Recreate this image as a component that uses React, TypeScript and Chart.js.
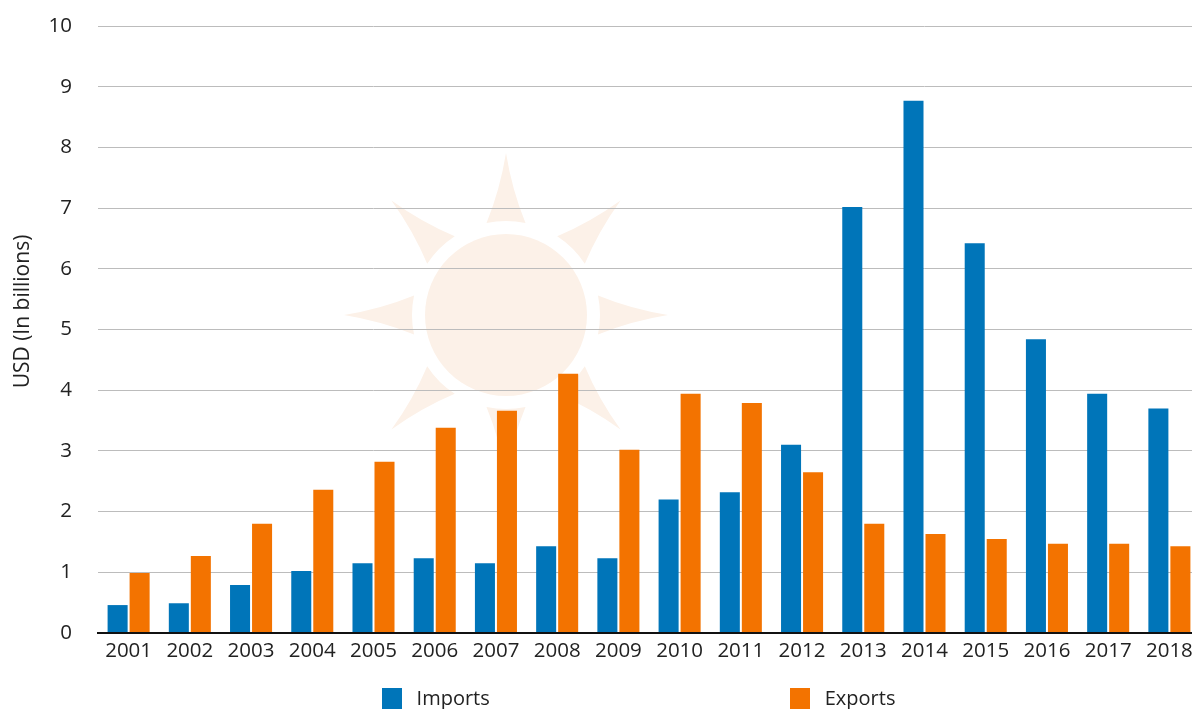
import React, { useEffect, useRef } from "react";
import { Chart, registerables } from "chart.js";

Chart.register(...registerables);

const years = ["2001","2002","2003","2004","2005","2006","2007","2008","2009","2010","2011","2012","2013","2014","2015","2016","2017","2018"];
const imports = [0.46,0.49,0.79,1.02,1.15,1.23,1.15,1.43,1.23,2.2,2.32,3.1,7.02,8.77,6.42,4.84,3.94,3.7];
const exportsUsd = [0.99,1.27,1.8,2.36,2.82,3.38,3.66,4.27,3.02,3.94,3.79,2.65,1.8,1.63,1.55,1.47,1.47,1.43];
const FONT = "'Open Sans', sans-serif";
const BLUE = "#0075b9";
const ORANGE = "#f37300";
const LEGEND_PADDING = 295;

function swatch(color: string) {
  const c = document.createElement("canvas");
  c.width = 20;
  c.height = 22;
  const g = c.getContext("2d")!;
  g.fillStyle = color;
  g.fillRect(0, 0, 20, 22);
  return c;
}

const sunPlugin = {
  id: "sunWatermark",
  beforeDraw(chart: any) {
    const { ctx } = chart;
    const cx = 506, cy = 315;
    ctx.save();
    ctx.fillStyle = "#fcf1e8";
    ctx.beginPath();
    ctx.arc(cx, cy, 81, 0, Math.PI * 2);
    ctx.fill();
    for (let i = 0; i < 8; i++) {
      ctx.save();
      ctx.translate(cx, cy);
      ctx.rotate((i * Math.PI) / 4);
      const half = Math.asin(19.5 / 94);
      ctx.beginPath();
      ctx.arc(0, 0, 94, -Math.PI / 2 - half, -Math.PI / 2 + half);
      ctx.quadraticCurveTo(6, -125, 0, -162);
      ctx.quadraticCurveTo(-6, -125, -19.5, -Math.sqrt(94 * 94 - 19.5 * 19.5));
      ctx.closePath();
      ctx.fill();
      ctx.restore();
    }
    ctx.restore();
  },
};

// The reference spreads its two legend entries far apart: keep the wide item
// spacing without letting it add to the legend's height.
const legendLayoutPlugin = {
  id: "legendLayout",
  beforeLayout(chart: any) {
    const legend = chart.legend;
    if (!legend.__fitPatched) {
      const fit = legend.fit;
      legend.fit = function () {
        fit.call(this);
        this.height = 40;
      };
      legend.__fitPatched = true;
    }
  },
  afterLayout(chart: any) {
    const legend = chart.legend;
    legend.top = 689 - LEGEND_PADDING;
    legend.left += 36;
    legend.right += 36;
  },
  beforeDraw(chart: any) {
    const y = chart.scales.y;
    if (!y.__titlePatched) {
      const drawTitle = y.drawTitle;
      y.drawTitle = function () {
        const ctx = this.ctx;
        ctx.save();
        ctx.translate(2, -18);
        drawTitle.call(this);
        ctx.restore();
      };
      y.__titlePatched = true;
    }
  },
};

export default function App() {
  const ref = useRef<HTMLCanvasElement>(null);
  useEffect(() => {
    const swatches = [swatch(BLUE), swatch(ORANGE)];
    const chart = new Chart(ref.current!, {
      type: "bar",
      data: {
        labels: years,
        datasets: [
          { label: "Imports", data: imports, backgroundColor: BLUE, categoryPercentage: 0.719, barPercentage: 0.91 },
          { label: "Exports", data: exportsUsd, backgroundColor: ORANGE, categoryPercentage: 0.719, barPercentage: 0.91 },
        ],
      },
      options: {
        animation: false,
        responsive: false,
        layout: { padding: { top: 26, right: 10, left: 0, bottom: 0 } },
        plugins: {
          tooltip: { enabled: false },
          legend: {
            position: "bottom",
            labels: {
              usePointStyle: true,
              pointStyleWidth: 30,
              boxWidth: 30,
              boxHeight: 20,
              padding: LEGEND_PADDING,
              color: "#222",
              font: { family: FONT, size: 20 },
              generateLabels(c: any) {
                return Chart.defaults.plugins.legend.labels
                  .generateLabels(c)
                  .map((item: any, i: number) => ({ ...item, pointStyle: swatches[i] }));
              },
            },
          },
        },
        scales: {
          x: {
            grid: { display: false },
            border: { color: "#111", width: 2, z: 1 },
            ticks: { color: "#222", font: { family: FONT, size: 20.5 }, padding: -2, maxRotation: 0, autoSkip: false },
            afterFit(s: any) { s.height = 47; },
          },
          y: {
            min: 0,
            max: 10,
            grid: { color: "#bcbcbc", lineWidth: 1, drawTicks: false },
            border: { display: false },
            ticks: { stepSize: 1, color: "#222", font: { family: FONT, size: 20.5 }, padding: 26 },
            title: { display: true, text: "USD (In billions)", color: "#222", font: { family: FONT, size: 21 }, padding: { top: 8, bottom: 0 } },
            afterFit(s: any) { s.width = 98; s.paddingTop = 0; s.paddingBottom = 0; },
          },
        },
      },
      plugins: [sunPlugin, legendLayoutPlugin],
    } as any);
    return () => chart.destroy();
  }, []);
  return (
    <div style={{ position: "fixed", inset: 0, overflow: "hidden", background: "#fff" }}>
      <canvas ref={ref} width={1210} height={720} style={{ position: "absolute", left: 0, top: 0 }} />
    </div>
  );
}
